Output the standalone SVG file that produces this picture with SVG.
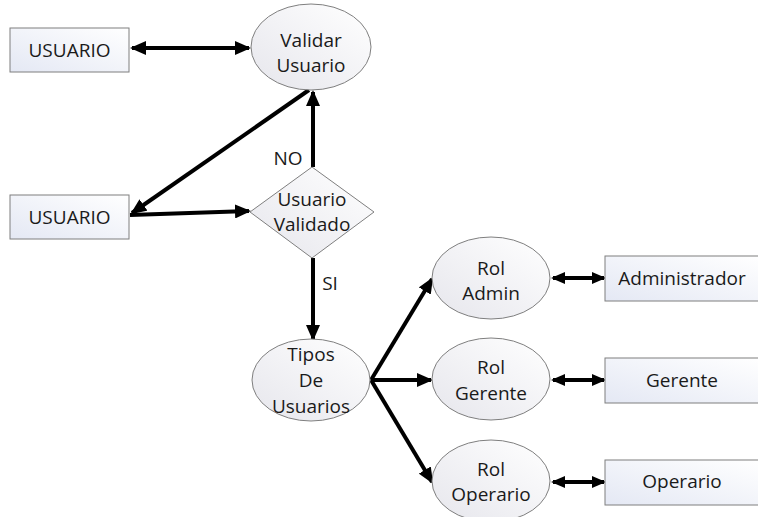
<svg xmlns="http://www.w3.org/2000/svg" width="758" height="517" viewBox="0 0 758 517">
<style>
.box{fill:url(#gb);stroke:#7f7f7f;stroke-width:1}
.ell{fill:url(#ge);stroke:#7f7f7f;stroke-width:1}
.t{font-family:"Open Sans","Noto Sans",sans-serif;font-size:19px;fill:#1a1a1a;text-anchor:middle}
.c{fill:none;stroke:#000;stroke-width:4}
</style>
<defs>
<linearGradient id="gb" x1="1" y1="0" x2="0" y2="1">
<stop offset="0" stop-color="#ffffff"/><stop offset="1" stop-color="#e4e8f4"/>
</linearGradient>
<linearGradient id="ge" x1="1" y1="0" x2="0" y2="1">
<stop offset="0" stop-color="#ffffff"/><stop offset="1" stop-color="#e6e6ec"/>
</linearGradient>
<marker id="ah" markerUnits="userSpaceOnUse" markerWidth="16" markerHeight="14" refX="14" refY="7" orient="auto-start-reverse">
<path d="M0,0 L16,7 L0,14 Z" fill="#000"/>
</marker>
<marker id="as" markerUnits="userSpaceOnUse" markerWidth="14" markerHeight="12" refX="12" refY="6" orient="auto-start-reverse">
<path d="M0,0 L14,6 L0,12 Z" fill="#000"/>
</marker>
</defs>
<g id="connectors">
<line class="c" x1="132" y1="48" x2="249" y2="48" marker-start="url(#ah)" marker-end="url(#ah)"/>
<line class="c" x1="313" y1="167" x2="313" y2="92" marker-end="url(#ah)"/>
<line class="c" x1="309" y1="90" x2="132" y2="213" marker-end="url(#ah)"/>
<line class="c" x1="130" y1="215" x2="249" y2="211" marker-end="url(#ah)"/>
<line class="c" x1="313" y1="258" x2="313" y2="339" marker-end="url(#ah)"/>
<line class="c" x1="371" y1="380" x2="432" y2="279" marker-end="url(#ah)"/>
<line class="c" x1="371" y1="380" x2="431" y2="380" marker-end="url(#ah)"/>
<line class="c" x1="371" y1="380" x2="432" y2="482" marker-end="url(#ah)"/>
<line class="c" x1="553" y1="278" x2="604" y2="278" marker-start="url(#as)" marker-end="url(#as)"/>
<line class="c" x1="553" y1="380" x2="604" y2="380" marker-start="url(#as)" marker-end="url(#as)"/>
<line class="c" x1="553" y1="482" x2="604" y2="482" marker-start="url(#as)" marker-end="url(#as)"/>
<text class="t" x="288" y="165">NO</text>
<text class="t" x="330" y="290">SI</text>
</g>
<g id="usuario1">
<rect class="box" x="10" y="28" width="119" height="44"/>
<text class="t" x="69.5" y="57">USUARIO</text>
</g>
<g id="validar">
<ellipse class="ell" cx="311" cy="47" rx="60" ry="43"/>
<text class="t" x="311" y="47">Validar</text>
<text class="t" x="311" y="72">Usuario</text>
</g>
<g id="usuario2">
<rect class="box" x="10" y="195" width="119" height="44"/>
<text class="t" x="69.5" y="224">USUARIO</text>
</g>
<g id="validado">
<polygon class="box" points="312,167 374,212 312,258 250,212" style="fill:url(#ge)"/>
<text class="t" x="312" y="206">Usuario</text>
<text class="t" x="312" y="231">Validado</text>
</g>
<g id="tipos">
<ellipse class="ell" cx="311" cy="380" rx="59" ry="41"/>
<text class="t" x="311" y="361">Tipos</text>
<text class="t" x="311" y="387">De</text>
<text class="t" x="311" y="413">Usuarios</text>
</g>
<g id="roladmin">
<ellipse class="ell" cx="491" cy="278" rx="59" ry="41"/>
<text class="t" x="491" y="275">Rol</text>
<text class="t" x="491" y="300">Admin</text>
</g>
<g id="rolgerente">
<ellipse class="ell" cx="491" cy="379" rx="59" ry="41"/>
<text class="t" x="491" y="374">Rol</text>
<text class="t" x="491" y="400">Gerente</text>
</g>
<g id="roloperario">
<ellipse class="ell" cx="491" cy="481" rx="59" ry="41"/>
<text class="t" x="491" y="476">Rol</text>
<text class="t" x="491" y="501">Operario</text>
</g>
<g id="administrador">
<rect class="box" x="605" y="256" width="154" height="45"/>
<text class="t" x="682" y="285">Administrador</text>
</g>
<g id="gerente">
<rect class="box" x="605" y="358" width="154" height="45"/>
<text class="t" x="682" y="387">Gerente</text>
</g>
<g id="operario">
<rect class="box" x="605" y="460" width="154" height="45"/>
<text class="t" x="682" y="488">Operario</text>
</g>
</svg>
